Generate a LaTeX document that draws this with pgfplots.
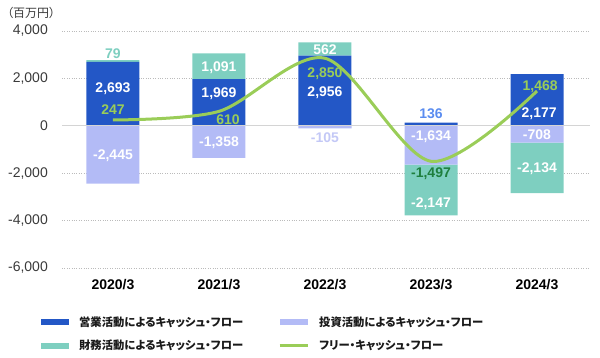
\documentclass[border=0pt]{standalone}
\usepackage{fontspec}
\setmainfont{Liberation Sans}
\newfontfamily\cjk{Noto Sans CJK JP}
\newfontfamily\cjkp[RawFeature=+palt]{Noto Sans CJK JP}
\usepackage{pgfplots}
\pgfplotsset{compat=1.18}
\definecolor{opc}{HTML}{2357C6}
\definecolor{invc}{HTML}{B3BBF6}
\definecolor{finc}{HTML}{7ECFC0}
\definecolor{fcfc}{HTML}{9ACD58}
\definecolor{fcfdark}{HTML}{1E7F3E}
\definecolor{lblb}{HTML}{5A8CF0}
\definecolor{lbll}{HTML}{C3C8F6}
\definecolor{gridc}{HTML}{BBBBBB}
\definecolor{zeroc}{HTML}{D4D4D4}
\definecolor{tickc}{HTML}{3A3A3A}
\definecolor{legc}{HTML}{1A1A1A}
\pgfplotsset{
  base/.style={at={(62bp,90bp)}, anchor=south west, scale only axis,
    width=528bp, height=237bp, xmin=-0.481, xmax=4.5, ymin=-6000, ymax=4000, clip=false},
  swatch/.style={legend image code/.code={\fill[##1, draw=none] (0bp,-3bp) rectangle (28bp,3bp);}},
  lineswatch/.style={legend image code/.code={\draw[##1] (0bp,0bp) -- (28bp,0bp);}},
}
\tikzset{lab/.style={font=\bfseries\fontsize{14bp}{16bp}\selectfont, text=white, inner sep=0pt}}
\begin{document}
\begin{tikzpicture}
\path (0,0) rectangle (600bp,358bp);
\node[anchor=west, inner sep=0pt, text=tickc, font=\cjkp\fontsize{12bp}{14bp}\selectfont] at (7bp,345bp) {（百万円）};
\begin{axis}[base,
  ybar stacked, bar width=0.5,
  axis line style={draw=none}, major tick length=0pt,
  ymajorgrids, grid style={gridc, dotted, line width=0.9bp},
  ytick={-6000,-4000,-2000,0,2000,4000},
  xtick={0,1,2,3,4}, xticklabels={2020/3,2021/3,2022/3,2023/3,2024/3},
  scaled y ticks=false,
  /pgf/number format/1000 sep={,},
  /pgf/number format/assume math mode=true,
  yticklabel style={anchor=east, inner sep=0pt, xshift=-14bp, text=tickc, font=\fontsize{14bp}{16bp}\selectfont},
  xticklabel style={anchor=north, inner sep=0pt, yshift=-11bp, font=\bfseries\fontsize{14bp}{16bp}\selectfont},
]
\addplot[fill=opc, draw=none] coordinates {(0,2693)(1,1969)(2,2956)(3,136)(4,2177)};
\addplot[fill=finc, draw=none] coordinates {(0,79)(1,1091)(2,562)(3,0)(4,0)};
\end{axis}
\begin{axis}[base, hide axis, ybar stacked, bar width=0.5]
\addplot[fill=invc, draw=none] coordinates {(0,-2445)(1,-1358)(2,-105)(3,-1634)(4,-708)};
\addplot[fill=finc, draw=none] coordinates {(0,0)(1,0)(2,0)(3,-2147)(4,-2134)};
\end{axis}
\begin{axis}[base, hide axis,
  legend columns=2,
  legend cell align=left,
  legend style={draw=none, fill=none, at={(-0.0398,-0.197)}, anchor=north west, inner sep=0pt,
    row sep=8bp, font=\cjkp\bfseries\fontsize{11.3bp}{13bp}\selectfont, text=legc,
    /tikz/every odd column/.append style={column sep=8bp},
    /tikz/every even column/.append style={column sep=33bp}},
]
\draw[zeroc, line width=1.2bp] (axis cs:-0.481,0) -- (axis cs:4.5,0);
\addlegendimage{swatch, fill=opc}
\addlegendimage{swatch, fill=invc}
\addlegendimage{swatch, fill=finc}
\addlegendimage{lineswatch, draw=fcfc, line width=3bp}
\addplot[fcfc, line width=3bp, smooth, forget plot] coordinates {(0,247)(1,610)(2,2850)(3,-1497)(4,1468)};
\legend{営業活動によるキャッシュ・フロー, 投資活動によるキャッシュ・フロー, 財務活動によるキャッシュ・フロー, フリー・キャッシュ・フロー}
% labels
\node[lab, text=finc] at (axis cs:0,3040) {79};
\node[lab] at (axis cs:0,1560) {2,693};
\node[lab, text=fcfc] at (axis cs:0,675) {247};
\node[lab] at (axis cs:0,-1266) {-2,445};
\node[lab] at (axis cs:1,2448) {1,091};
\node[lab] at (axis cs:1,1350) {1,969};
\node[lab, text=fcfc] at (axis cs:1.085,253) {610};
\node[lab] at (axis cs:1,-717) {-1,358};
\node[lab] at (axis cs:2,3207) {562};
\node[lab, text=fcfc] at (axis cs:2,2194) {2,850};
\node[lab] at (axis cs:2,1393) {2,956};
\node[lab, text=lbll] at (axis cs:2,-506) {-105};
\node[lab, text=lblb] at (axis cs:3,506) {136};
\node[lab] at (axis cs:3,-464) {-1,634};
\node[lab, text=fcfdark] at (axis cs:3,-2026) {-1,497};
\node[lab] at (axis cs:3,-3292) {-2,147};
\node[lab, text=fcfc] at (axis cs:4.03,1646) {1,468};
\node[lab] at (axis cs:4.02,506) {2,177};
\node[lab] at (axis cs:4,-380) {-708};
\node[lab] at (axis cs:4,-1815) {-2,134};
\end{axis}
\end{tikzpicture}
\end{document}
